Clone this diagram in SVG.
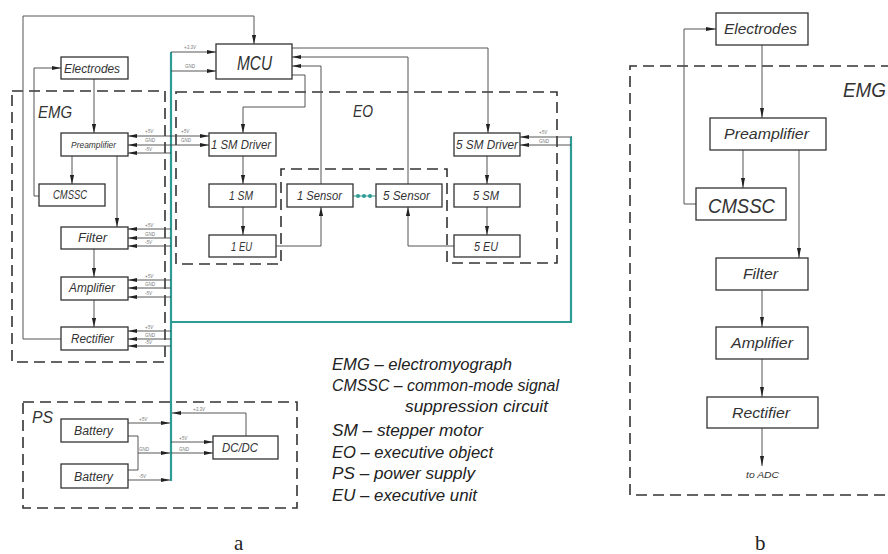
<svg xmlns="http://www.w3.org/2000/svg" width="888" height="554" viewBox="0 0 888 554">
<defs>
<marker id="ar" markerUnits="userSpaceOnUse" markerWidth="10" markerHeight="6" refX="9" refY="3" orient="auto"><path d="M0,0.9 L9,3 L0,5.1 z" fill="#222"/></marker>
<marker id="arb" markerUnits="userSpaceOnUse" markerWidth="11" markerHeight="6" refX="10" refY="3" orient="auto"><path d="M0,1 L10,3 L0,5 z" fill="#222"/></marker>
<style>
.bx{fill:#fff;stroke:#333;stroke-width:1.3}
.ln{fill:none;stroke:#555;stroke-width:1}
.pw{fill:none;stroke:#444;stroke-width:0.9}
.tl{fill:none;stroke:#2e9c94;stroke-width:2.2}
.ds{fill:none;stroke:#333;stroke-width:1.6;stroke-dasharray:11 6}
.t{font-family:"Liberation Sans","DejaVu Sans",sans-serif;font-style:italic;fill:#333}
.s{font-family:"Liberation Sans","DejaVu Sans",sans-serif;font-style:italic;fill:#777;font-size:4.5px}
.lg{font-family:"Liberation Sans","DejaVu Sans",sans-serif;font-style:italic;fill:#222;font-size:17px}
.cap{font-family:"Liberation Serif","DejaVu Serif",serif;fill:#222;font-size:21px}
</style>
</defs>

<!-- dashed group boxes -->
<g id="emg-a"><rect class="ds" x="12" y="91" width="153" height="271"/><text class="t" x="38" y="118" font-size="17" textLength="34" lengthAdjust="spacingAndGlyphs">EMG</text></g>
<g id="eo"><path class="ds" d="M176,92 H557 V263 H447 V169 H281 V264 H176 Z"/><text class="t" x="353" y="117" font-size="17" textLength="20" lengthAdjust="spacingAndGlyphs">EO</text></g>
<g id="ps"><rect class="ds" x="23" y="402" width="274" height="106"/><text class="t" x="32" y="423" font-size="17" textLength="21" lengthAdjust="spacingAndGlyphs">PS</text></g>
<g id="emg-b"><path class="ds" d="M892,66 H630 V495 H892"/><text class="t" x="843" y="97" font-size="20" textLength="43" lengthAdjust="spacingAndGlyphs">EMG</text></g>

<!-- connectors -->
<g id="connectors">
<!-- teal bus -->
<path class="tl" d="M171,52 V481"/>
<path class="tl" d="M171,322 H571 V137"/>
<path class="tl" d="M571,137 H572"/>
<g fill="#2e9c94"><circle cx="358" cy="196" r="2"/><circle cx="364" cy="196" r="2"/><circle cx="370" cy="196" r="2"/></g>
<path d="M353,196 H376" stroke="#2e9c94" stroke-width="1"/>

<!-- feedback lines -->
<path class="ln" d="M61,339 H23 V16 H254 V44" marker-end="url(#ar)"/>
<path class="ln" d="M39,196 H34 V68 H61" marker-end="url(#ar)"/>
<path class="ln" d="M94,79 V133" marker-end="url(#ar)"/>
<path class="ln" d="M72,156 V184" marker-end="url(#ar)"/>
<path class="ln" d="M117,156 V227" marker-end="url(#ar)"/>
<path class="ln" d="M94,249 V277" marker-end="url(#ar)"/>
<path class="ln" d="M94,300 V327" marker-end="url(#ar)"/>

<!-- MCU right side -->
<path class="ln" d="M292,48 H488 V133" marker-end="url(#ar)"/>
<path class="ln" d="M408,184 V57 H292" marker-end="url(#ar)"/>
<path class="ln" d="M321,184 V66 H292" marker-end="url(#ar)"/>
<path class="ln" d="M292,75 H305 V107 H243 V133" marker-end="url(#ar)"/>
<path class="ln" d="M243,156 V184" marker-end="url(#ar)"/>
<path class="ln" d="M243,207 V235" marker-end="url(#ar)"/>
<path class="ln" d="M276,246 H321 V207" marker-end="url(#ar)"/>
<path class="ln" d="M487,156 V184" marker-end="url(#ar)"/>
<path class="ln" d="M487,207 V235" marker-end="url(#ar)"/>
<path class="ln" d="M454,246 H408 V207" marker-end="url(#ar)"/>

<!-- power lines -->
<path class="pw" d="M171,52 H216" marker-end="url(#ar)"/>
<path class="pw" d="M171,71 H216" marker-end="url(#ar)"/>
<path class="pw" d="M171,136 H128" marker-end="url(#ar)"/>
<path class="pw" d="M171,145 H128" marker-end="url(#ar)"/>
<path class="pw" d="M171,153 H128" marker-end="url(#ar)"/>
<path class="pw" d="M171,136 H209" marker-end="url(#ar)"/>
<path class="pw" d="M171,145 H209" marker-end="url(#ar)"/>
<path class="pw" d="M171,229 H128" marker-end="url(#ar)"/>
<path class="pw" d="M171,238 H128" marker-end="url(#ar)"/>
<path class="pw" d="M171,246 H128" marker-end="url(#ar)"/>
<path class="pw" d="M171,280 H128" marker-end="url(#ar)"/>
<path class="pw" d="M171,288 H128" marker-end="url(#ar)"/>
<path class="pw" d="M171,297 H128" marker-end="url(#ar)"/>
<path class="pw" d="M171,331 H128" marker-end="url(#ar)"/>
<path class="pw" d="M171,339 H128" marker-end="url(#ar)"/>
<path class="pw" d="M171,346 H128" marker-end="url(#ar)"/>
<path class="pw" d="M571,137 H520" marker-end="url(#ar)"/>
<path class="pw" d="M571,145 H520" marker-end="url(#ar)"/>
<!-- PS -->
<path class="pw" d="M128,423 H170" marker-end="url(#ar)"/>
<path class="pw" d="M128,436 H138 V470 H128"/>
<path class="pw" d="M138,453 H170" marker-end="url(#ar)"/>
<path class="pw" d="M171,453 H213" marker-end="url(#ar)"/>
<path class="pw" d="M128,480 H170" marker-end="url(#ar)"/>
<path class="pw" d="M171,442 H213" marker-end="url(#ar)"/>
<path class="pw" d="M246,436 V413 H172" marker-end="url(#ar)"/>

<!-- panel b -->
<path class="ln" d="M762,45 V118" marker-end="url(#arb)"/>
<path class="ln" d="M743,150 V188" marker-end="url(#arb)"/>
<path class="ln" d="M799,150 V258" marker-end="url(#arb)"/>
<path class="ln" d="M696,204 H684 V29 H716" marker-end="url(#arb)"/>
<path class="ln" d="M762,290 V327" marker-end="url(#arb)"/>
<path class="ln" d="M762,359 V397" marker-end="url(#arb)"/>
<path class="ln" d="M762,428 V466" marker-end="url(#arb)"/>
</g>

<!-- power labels -->
<g id="power-labels">
<text class="s" x="184" y="49">+3.3V</text><text class="s" x="185" y="68">GND</text>
<text class="s" x="145" y="133">+5V</text><text class="s" x="145" y="142">GND</text><text class="s" x="145" y="151">-5V</text>
<text class="s" x="181" y="133">+5V</text><text class="s" x="181" y="142">GND</text>
<text class="s" x="145" y="227">+5V</text><text class="s" x="145" y="236">GND</text><text class="s" x="145" y="244">-5V</text>
<text class="s" x="145" y="278">+5V</text><text class="s" x="145" y="286">GND</text><text class="s" x="145" y="295">-5V</text>
<text class="s" x="145" y="329">+5V</text><text class="s" x="145" y="337">GND</text><text class="s" x="145" y="344">-5V</text>
<text class="s" x="539" y="134">+5V</text><text class="s" x="539" y="143">GND</text>
<text class="s" x="139" y="421">+5V</text><text class="s" x="139" y="451">GND</text><text class="s" x="139" y="478">-5V</text>
<text class="s" x="179" y="440">+5V</text><text class="s" x="179" y="451">GND</text><text class="s" x="193" y="411">+3.3V</text>
</g>

<!-- nodes panel a -->
<g id="mcu"><rect class="bx" x="216" y="44" width="76" height="35"/><text class="t" x="237" y="70" font-size="20" textLength="35" lengthAdjust="spacingAndGlyphs">MCU</text></g>
<g id="electrodes-a"><rect class="bx" x="61" y="57" width="67" height="22"/><text class="t" x="64" y="73" font-size="12" textLength="56" lengthAdjust="spacingAndGlyphs">Electrodes</text></g>
<g id="preamp-a"><rect class="bx" x="61" y="133" width="67" height="23"/><text class="t" x="71" y="148" font-size="9" textLength="45" lengthAdjust="spacingAndGlyphs">Preamplifier</text></g>
<g id="cmssc-a"><rect class="bx" x="39" y="184" width="66" height="22"/><text class="t" x="53" y="199" font-size="12" textLength="34" lengthAdjust="spacingAndGlyphs">CMSSC</text></g>
<g id="filter-a"><rect class="bx" x="61" y="227" width="67" height="22"/><text class="t" x="78" y="242" font-size="12" textLength="29" lengthAdjust="spacingAndGlyphs">Filter</text></g>
<g id="amplifier-a"><rect class="bx" x="61" y="277" width="67" height="23"/><text class="t" x="69" y="292" font-size="12" textLength="46" lengthAdjust="spacingAndGlyphs">Amplifier</text></g>
<g id="rectifier-a"><rect class="bx" x="61" y="327" width="67" height="23"/><text class="t" x="71" y="343" font-size="12" textLength="43" lengthAdjust="spacingAndGlyphs">Rectifier</text></g>
<g id="sm-driver-1"><rect class="bx" x="209" y="133" width="67" height="23"/><text class="t" x="211" y="149" font-size="13" textLength="60" lengthAdjust="spacingAndGlyphs">1 SM Driver</text></g>
<g id="sm-1"><rect class="bx" x="209" y="184" width="67" height="23"/><text class="t" x="229" y="200" font-size="13" textLength="24" lengthAdjust="spacingAndGlyphs">1 SM</text></g>
<g id="eu-1"><rect class="bx" x="209" y="235" width="67" height="22"/><text class="t" x="231" y="251" font-size="13" textLength="21" lengthAdjust="spacingAndGlyphs">1 EU</text></g>
<g id="sensor-1"><rect class="bx" x="287" y="184" width="66" height="23"/><text class="t" x="297" y="200" font-size="13" textLength="45" lengthAdjust="spacingAndGlyphs">1 Sensor</text></g>
<g id="sensor-5"><rect class="bx" x="376" y="184" width="66" height="23"/><text class="t" x="383" y="200" font-size="13" textLength="47" lengthAdjust="spacingAndGlyphs">5 Sensor</text></g>
<g id="sm-driver-5"><rect class="bx" x="454" y="133" width="66" height="23"/><text class="t" x="456" y="149" font-size="13" textLength="62" lengthAdjust="spacingAndGlyphs">5 SM Driver</text></g>
<g id="sm-5"><rect class="bx" x="454" y="184" width="66" height="23"/><text class="t" x="473" y="200" font-size="13" textLength="26" lengthAdjust="spacingAndGlyphs">5 SM</text></g>
<g id="eu-5"><rect class="bx" x="454" y="235" width="66" height="22"/><text class="t" x="474" y="251" font-size="13" textLength="24" lengthAdjust="spacingAndGlyphs">5 EU</text></g>
<g id="battery-1"><rect class="bx" x="61" y="419" width="67" height="23"/><text class="t" x="74" y="435" font-size="12" textLength="39" lengthAdjust="spacingAndGlyphs">Battery</text></g>
<g id="battery-2"><rect class="bx" x="61" y="464" width="67" height="24"/><text class="t" x="74" y="481" font-size="12" textLength="39" lengthAdjust="spacingAndGlyphs">Battery</text></g>
<g id="dcdc"><rect class="bx" x="213" y="436" width="65" height="23"/><text class="t" x="222" y="452" font-size="12" textLength="36" lengthAdjust="spacingAndGlyphs">DC/DC</text></g>

<!-- legend -->
<g id="legend">
<text class="lg" x="332" y="370" textLength="180" lengthAdjust="spacingAndGlyphs">EMG – electromyograph</text>
<text class="lg" x="332" y="391" textLength="227" lengthAdjust="spacingAndGlyphs">CMSSC – common-mode signal</text>
<text class="lg" x="405" y="412" textLength="143" lengthAdjust="spacingAndGlyphs">suppression circuit</text>
<text class="lg" x="332" y="436" textLength="151" lengthAdjust="spacingAndGlyphs">SM – stepper motor</text>
<text class="lg" x="332" y="458" textLength="161" lengthAdjust="spacingAndGlyphs">EO – executive object</text>
<text class="lg" x="332" y="479" textLength="143" lengthAdjust="spacingAndGlyphs">PS – power supply</text>
<text class="lg" x="332" y="501" textLength="145" lengthAdjust="spacingAndGlyphs">EU – executive unit</text>
</g>

<!-- panel b nodes -->
<g id="electrodes-b"><rect class="bx" x="716" y="13" width="92" height="32"/><text class="t" x="724" y="34" font-size="15" textLength="73" lengthAdjust="spacingAndGlyphs">Electrodes</text></g>
<g id="preamp-b"><rect class="bx" x="710" y="118" width="116" height="32"/><text class="t" x="724" y="139" font-size="15" textLength="85" lengthAdjust="spacingAndGlyphs">Preamplifier</text></g>
<g id="cmssc-b"><rect class="bx" x="696" y="188" width="90" height="32"/><text class="t" x="708" y="213" font-size="21" textLength="67" lengthAdjust="spacingAndGlyphs">CMSSC</text></g>
<g id="filter-b"><rect class="bx" x="716" y="258" width="92" height="32"/><text class="t" x="743" y="279" font-size="15" textLength="35" lengthAdjust="spacingAndGlyphs">Filter</text></g>
<g id="amplifier-b"><rect class="bx" x="716" y="327" width="92" height="32"/><text class="t" x="731" y="348" font-size="15" textLength="62" lengthAdjust="spacingAndGlyphs">Amplifier</text></g>
<g id="rectifier-b"><rect class="bx" x="707" y="397" width="111" height="31"/><text class="t" x="732" y="418" font-size="15" textLength="58" lengthAdjust="spacingAndGlyphs">Rectifier</text></g>
<text class="t" x="746" y="478" font-size="9" textLength="33" lengthAdjust="spacingAndGlyphs">to ADC</text>

<text class="cap" x="234" y="550">a</text>
<text class="cap" x="755" y="550">b</text>
</svg>
